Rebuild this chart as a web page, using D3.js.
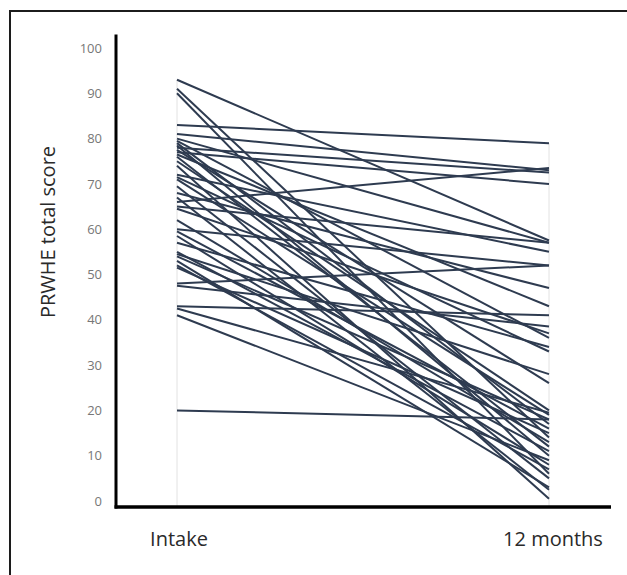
<!DOCTYPE html>
<html>
<head>
<meta charset="utf-8">
<script src="https://cdn.jsdelivr.net/npm/d3@7"></script>
<style>
  html, body { margin: 0; padding: 0; background: #fff; }
  svg { display: block; }
  .tick text { font-family: "Open Sans", sans-serif; font-size: 13px; fill: #777; }
  .cat-label, .y-title { font-family: "Open Sans", sans-serif; font-size: 20px; fill: #2a2a2a; }
</style>
</head>
<body>
<div class="artboard"></div>
<script>
// one patient per index: score at intake and at 12 months
var categories = ['Intake', '12 months'];
var intakeScores = [93, 91, 90, 83, 81, 80, 79.5, 79, 78.5, 78, 77.5, 77, 76.5, 76, 75, 74,
  72, 71.5, 71, 69.5, 68, 67, 66, 65, 64.5, 62, 60, 59.5, 58.5, 57, 55, 54.5, 54, 53, 52,
  51.5, 48, 47.5, 43, 42.5, 41, 20];
var month12Scores = [57.5, 14, 6, 79, 73, 57, 36, 17, 10, 72.5, 26, 70, 43, 12, 20, 0.5,
  55, 33, 19, 5, 47, 2.5, 73.5, 57, 37, 13, 52, 16, 8, 34, 11, 28, 18, 3, 7,
  15, 52, 38.5, 41, 19.5, 9, 18];
var yTicks = [0, 10, 20, 30, 40, 50, 60, 70, 80, 90, 100];
var yTitle = 'PRWHE total score';

var drawChart = function(opts) {
  var width = 627;
  var height = 575;

  var series = opts.intake.map(function(v, idx) {
    return [{ c: categories[0], v: v }, { c: categories[1], v: opts.month12[idx] }];
  });

  var x = d3.scalePoint()
    .domain(categories)
    .range([177, 549]);

  var y = d3.scaleLinear()
    .domain([0, 100])
    .range([501, 48]);

  var svg = d3.select(opts.artboard)
    .append('svg')
    .attr('width', width)
    .attr('height', height);

  // frame (left + top edge only, like the clipped figure)
  svg.append('path')
    .attr('d', 'M10,' + height + 'V11H' + width)
    .attr('fill', 'none')
    .attr('stroke', '#1c1c1c')
    .attr('stroke-width', 2);

  // faint drop lines at each time point
  categories.forEach(function(c, idx) {
    var vals = idx === 0 ? opts.intake : opts.month12;
    svg.append('line')
      .attr('x1', x(c)).attr('x2', x(c))
      .attr('y1', y(d3.max(vals))).attr('y2', y(0) + 6)
      .attr('stroke', '#e2e2e2')
      .attr('stroke-width', 1);
  });

  var line = d3.line()
    .x(function(d) { return x(d.c); })
    .y(function(d) { return y(d.v); });

  svg.append('g')
    .selectAll('path')
    .data(series)
    .enter().append('path')
    .attr('d', line)
    .attr('fill', 'none')
    .attr('stroke', '#2e3b50')
    .attr('stroke-width', 2);

  // y tick labels, no tick marks
  var yAxis = svg.append('g')
    .attr('transform', 'translate(116,0)')
    .call(d3.axisLeft(y).tickValues(yTicks).tickSize(0).tickPadding(14));
  yAxis.select('.domain').remove();

  // heavy axis lines
  var axisY0 = y(0) + 6;
  svg.append('line')
    .attr('x1', 116).attr('x2', 116)
    .attr('y1', y(103)).attr('y2', axisY0 + 1.5)
    .attr('stroke', '#000').attr('stroke-width', 3);
  svg.append('line')
    .attr('x1', 114.5).attr('x2', 611)
    .attr('y1', axisY0).attr('y2', axisY0)
    .attr('stroke', '#000').attr('stroke-width', 3.5);

  // category labels
  svg.append('g')
    .selectAll('text')
    .data(categories)
    .enter().append('text')
    .attr('class', 'cat-label')
    .attr('x', function(d, idx) { return x(d) + (idx === 0 ? 2 : 4); })
    .attr('y', 546)
    .attr('text-anchor', 'middle')
    .text(function(d) { return d; });

  svg.append('text')
    .attr('class', 'y-title')
    .attr('transform', 'translate(55,232) rotate(-90)')
    .attr('text-anchor', 'middle')
    .text(yTitle);
};

drawChart({
  artboard: document.querySelector('.artboard'),
  intake: intakeScores,
  month12: month12Scores
});
</script>
</body>
</html>
